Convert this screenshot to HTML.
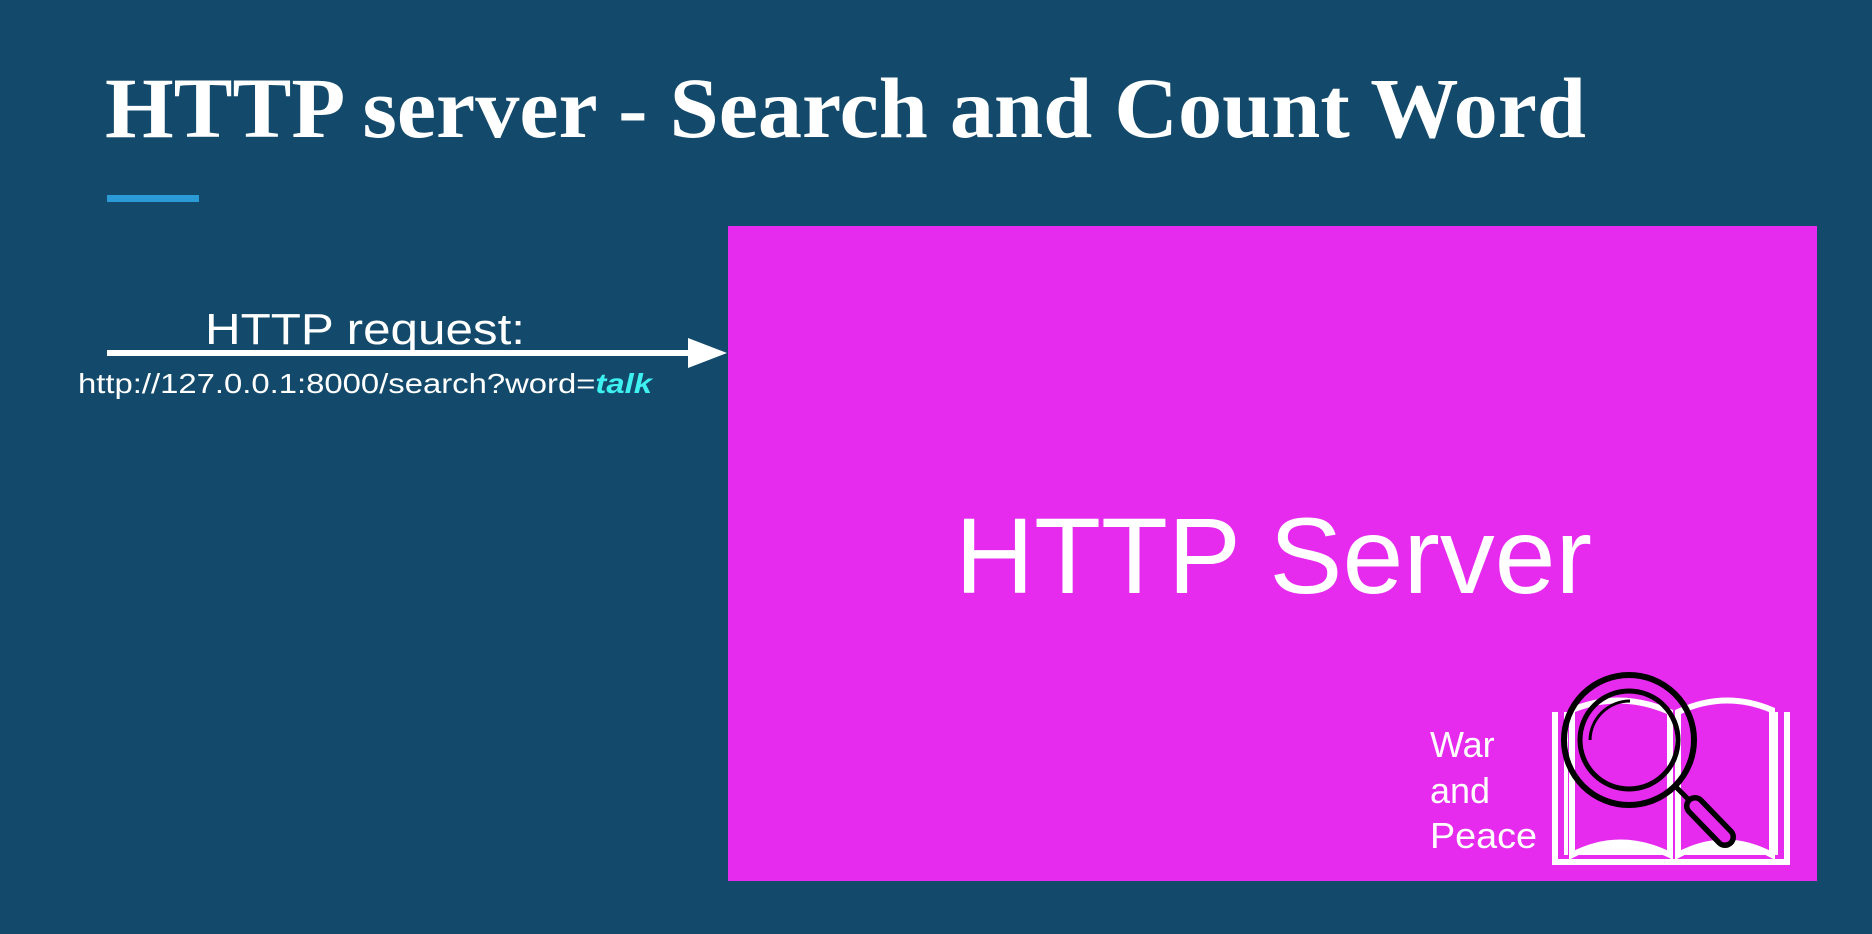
<!DOCTYPE html>
<html><head><meta charset="utf-8"><style>
html,body{margin:0;padding:0;background:#134a6b;}
svg{display:block}
</style></head><body>
<svg width="1872" height="934" viewBox="0 0 1872 934" xmlns="http://www.w3.org/2000/svg">
<rect width="1872" height="934" fill="#134a6b"/>
<text x="105" y="137" font-family="Liberation Serif, serif" font-weight="bold" font-size="86" fill="#fff" textLength="1481" lengthAdjust="spacingAndGlyphs">HTTP server - Search and Count Word</text>
<rect x="107" y="195" width="92" height="7" fill="#2a9bd6"/>
<rect x="728" y="226" width="1089" height="655" fill="#e62aee"/>
<line x1="107" y1="353" x2="695" y2="353" stroke="#fff" stroke-width="6"/>
<polygon points="688,338 727,353 688,368" fill="#fff"/>
<text x="205" y="344" font-family="Liberation Sans, sans-serif" font-size="44" fill="#fff" textLength="320" lengthAdjust="spacingAndGlyphs">HTTP request:</text>
<text x="78" y="393" font-family="Liberation Sans, sans-serif" font-size="28" fill="#fff" textLength="574" lengthAdjust="spacingAndGlyphs">http://127.0.0.1:8000/search?word=<tspan fill="#3ef0f0" font-weight="bold" font-style="italic">talk</tspan></text>
<text x="955" y="593" font-family="Liberation Sans, sans-serif" font-size="108" fill="#fff" textLength="637" lengthAdjust="spacingAndGlyphs">HTTP Server</text>
<g font-family="Liberation Sans, sans-serif" font-size="36" fill="#fff">
<text x="1430" y="757">War</text>
<text x="1430" y="803">and</text>
<text x="1430" y="848" textLength="107" lengthAdjust="spacingAndGlyphs">Peace</text>
</g>
<!-- book -->
<g fill="none" stroke="#fff">
<path d="M1555,712 V862 H1787 V712" stroke-width="6"/>
<path d="M1566,712 V855 M1776,712 V855" stroke-width="4"/>
<path d="M1572,710 Q1620,690 1670,712 V855 Q1620,830 1572,855 Z" stroke-width="6"/>
<path d="M1678,712 Q1725,690 1772,710 V855 Q1725,830 1678,855 Z" stroke-width="6"/>
</g>
<path d="M1572,855 Q1620,830 1670,855 Z M1678,855 Q1725,830 1772,855 Z" fill="#fff"/>
<!-- magnifier -->
<g fill="none" stroke="#000">
<circle cx="1629" cy="740" r="65" stroke-width="6"/>
<circle cx="1629" cy="740" r="49" stroke-width="5"/>
<path d="M1590,740 A40,40 0 0 1 1630,701" stroke-width="3"/>
<line x1="1676" y1="787" x2="1690" y2="801" stroke-width="5"/>
<line x1="1695" y1="806" x2="1725" y2="837" stroke-width="22" stroke-linecap="round"/>
<line x1="1695" y1="806" x2="1725" y2="837" stroke="#e62aee" stroke-width="11" stroke-linecap="round"/>
</g>
</svg>
</body></html>
